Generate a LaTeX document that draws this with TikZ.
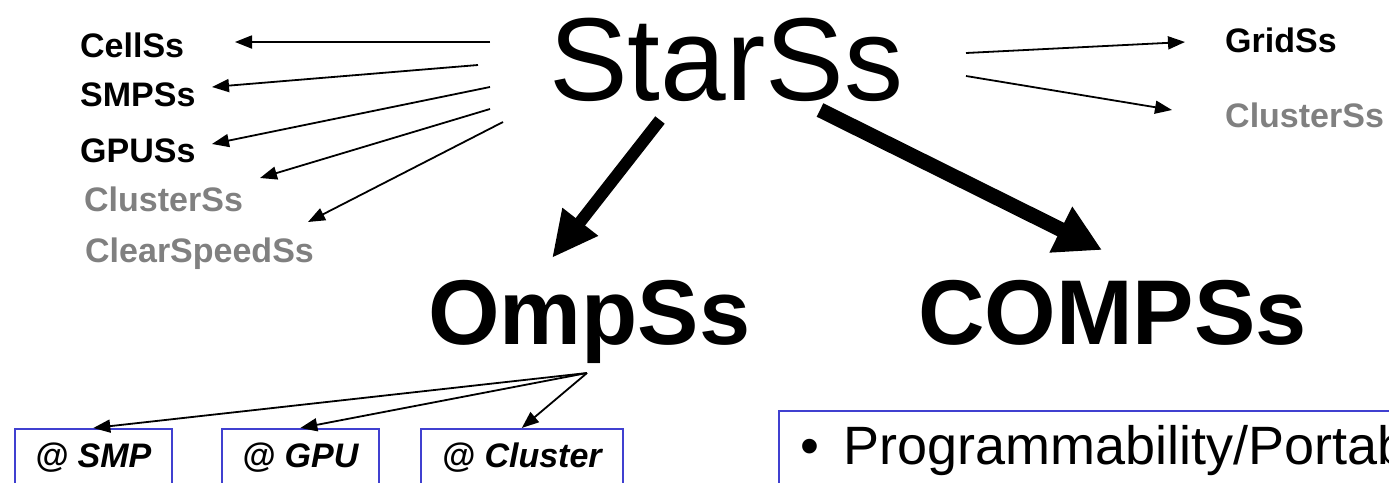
\documentclass[tikz,border=0pt]{standalone}
\usepackage{fontspec}
\setmainfont{Liberation Sans}
\usetikzlibrary{arrows.meta}
\definecolor{offgray}{RGB}{128,128,128}
\definecolor{boxblue}{RGB}{64,64,208}
\tikzset{
	title/.style = {
		anchor=base west,
		inner sep=0pt,
		font=\fontsize{118}{118}\selectfont
	},
	model/.style = {
		anchor=base west,
		inner sep=0pt,
		font=\fontsize{92}{92}\selectfont\bfseries
	},
	variant/.style = {
		anchor=base west,
		inner sep=0pt,
		font=\fontsize{34}{34}\selectfont\bfseries
	},
	variant_off/.style = {
		variant,
		text=offgray
	},
	target/.style = {
		draw=boxblue,
		line width=1.6pt,
		anchor=north west,
		inner sep=0pt,
		minimum height=58pt,
		font=\fontsize{34}{34}\selectfont\bfseries\itshape
	},
	thin_arrow/.style = {
		-{Triangle[length=17pt,width=13pt]},
		line width=1.8pt
	},
	fat_arrow/.style = {
		-{Triangle[length=46pt,width=42pt]},
		line width=13pt
	},
}

\begin{document}
\begin{tikzpicture}[x=1pt,y=-1pt]
\useasboundingbox (0,0) rectangle (1389,482);
\clip (0,0) rectangle (1389,482);

\node [title] (starss) at (549,100) {StarSs};
\node [model] (ompss) at (428,344) {OmpSs};
\node [model] (compss) at (918,344) {COMPSs};

\node [variant] (cellss) at (80,57) {CellSs};
\node [variant] (smpss) at (80,106) {SMPSs};
\node [variant] (gpuss) at (80,162) {GPUSs};
\node [variant_off] (clusterss) at (84,211) {ClusterSs};
\node [variant_off] (clearspeedss) at (85,262) {ClearSpeedSs};
\node [variant] (gridss) at (1225,52) {GridSs};
\node [variant_off] (clusterss_r) at (1225,127) {ClusterSs};

\node [target, minimum width=157pt] (smp) at (14,428) {@ SMP};
\node [target, minimum width=157pt] (gpu) at (221,428) {@ GPU};
\node [target, minimum width=202pt] (cluster) at (420,428) {@ Cluster};

\node [draw=boxblue, line width=1.6pt, anchor=north west, minimum width=700pt, minimum height=120pt] (goals) at (778,410) {};
\node [anchor=base west, inner sep=0pt, font=\fontsize{54}{54}\selectfont] (bullet) at (800,464) {\textbullet};
\node [anchor=base west, inner sep=0pt, font=\fontsize{54}{54}\selectfont] (prog) at (843,464) {Programmability/Portab};

% left side
\coordinate (from_cell) at (490,42);
\coordinate (to_cell) at (235,42);
\coordinate (from_smp) at (478,65);
\coordinate (to_smp) at (212,87);
\coordinate (from_gpu) at (490,87);
\coordinate (to_gpu) at (212,144);
\coordinate (from_cluster) at (490,109);
\coordinate (to_cluster) at (260,178);
\coordinate (from_clear) at (503,122);
\coordinate (to_clear) at (308,222);
% right side
\coordinate (from_grid) at (966,53);
\coordinate (to_grid) at (1185,42);
\coordinate (from_cluster_r) at (966,76);
\coordinate (to_cluster_r) at (1172,110);
% big ones
\coordinate (from_omp) at (660,120);
\coordinate (to_omp) at (552,258);
\coordinate (from_comp) at (820,110);
\coordinate (to_comp) at (1102,250);
\coordinate (omp_foot) at (587,373);

\draw [thin_arrow] (from_cell) -- (to_cell);
\draw [thin_arrow] (from_smp) -- (to_smp);
\draw [thin_arrow] (from_gpu) -- (to_gpu);
\draw [thin_arrow] (from_cluster) -- (to_cluster);
\draw [thin_arrow] (from_clear) -- (to_clear);
\draw [thin_arrow] (from_grid) -- (to_grid);
\draw [thin_arrow] (from_cluster_r) -- (to_cluster_r);
\draw [fat_arrow, line width=12pt] (from_omp) -- (to_omp);
\draw [fat_arrow, line width=15pt, -{Triangle[length=46pt,width=48pt]}] (from_comp) -- (to_comp);
\draw [thin_arrow] (omp_foot) -- (smp.north);
\draw [thin_arrow] (omp_foot) -- (gpu.north);
\draw [thin_arrow] (omp_foot) -- (cluster.north);
\end{tikzpicture}
\end{document}
